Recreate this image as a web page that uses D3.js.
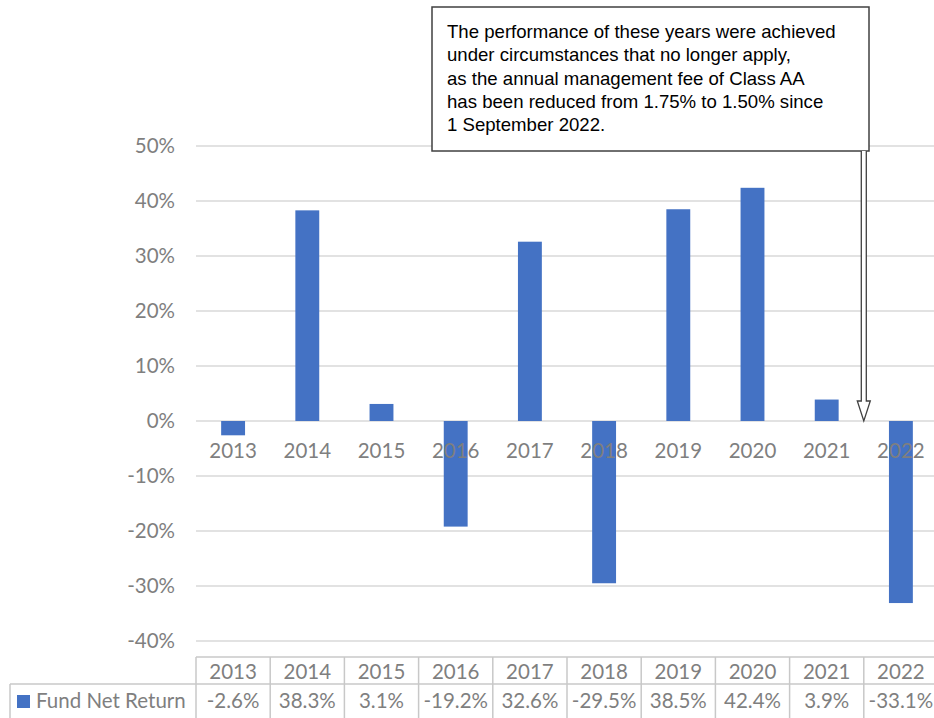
<!DOCTYPE html>
<html><head><meta charset="utf-8">
<script src="https://cdn.jsdelivr.net/npm/d3@7"></script>
<style>html,body{margin:0;padding:0;background:#fff;overflow:hidden}</style>
</head><body>
<script>
const years = ["2013","2014","2015","2016","2017","2018","2019","2020","2021","2022"];
const returns = [-2.6, 38.3, 3.1, -19.2, 32.6, -29.5, 38.5, 42.4, 3.9, -33.1];
const yTicks = [-40, -30, -20, -10, 0, 10, 20, 30, 40, 50];
const seriesName = "Fund Net Return";
const noteLines = [
  "The performance of these years were achieved",
  "under circumstances that no longer apply,",
  "as the annual management fee of Class AA",
  "has been reduced from 1.75% to 1.50% since",
  "1 September 2022."
];

const W = 934, H = 718;
const plotL = 196, plotR = 938, plotT = 146, plotB = 641;
const barColor = "#4472C4", gridColor = "#d9d9d9", txtColor = "#7f7f7f";
const font = "Lato, 'Open Sans', sans-serif";
const fs = "20.5px";

const svg = d3.select("body").append("svg").attr("width", W).attr("height", H);

const y = d3.scaleLinear().domain([-40, 50]).range([plotB, plotT]);
const x = d3.scaleBand().domain(years).range([plotL, plotR]).paddingInner(0.678).paddingOuter(0.339);
const xc = d3.scaleBand().domain(years).range([plotL, plotR]).padding(0);

// gridlines
svg.append("g").selectAll("line").data(yTicks).join("line")
  .attr("x1", plotL).attr("x2", plotR)
  .attr("y1", d => y(d)).attr("y2", d => y(d))
  .attr("stroke", gridColor).attr("stroke-width", 1.5);

// y axis labels
svg.append("g").selectAll("text").data(yTicks).join("text")
  .attr("x", 175).attr("y", d => y(d)).attr("dy", "0.35em")
  .attr("text-anchor", "end").attr("fill", txtColor)
  .style("font-family", font).style("font-size", "20.5px")
  .text(d => d + "%");

// bars
svg.append("g").selectAll("rect").data(years.map((yr,i)=>({yr, v: returns[i]}))).join("rect")
  .attr("x", d => x(d.yr)).attr("width", x.bandwidth())
  .attr("y", d => y(Math.max(0, d.v))).attr("height", d => Math.abs(y(d.v) - y(0)))
  .attr("fill", barColor);

// category labels near zero line (drawn over bars)
svg.append("g").selectAll("text").data(years).join("text")
  .attr("x", d => xc(d) + xc.bandwidth()/2).attr("y", y(0) + 30).attr("dy", "0.35em")
  .attr("text-anchor", "middle").attr("fill", txtColor)
  .style("font-family", font).style("font-size", fs)
  .text(d => d);

// data table
const tTop = 657, tMid = 684, tBot = 722;
const tg = svg.append("g");
const tl = (x1,y1,x2,y2) => tg.append("line").attr("x1",x1).attr("y1",y1).attr("x2",x2).attr("y2",y2)
  .attr("stroke", "#c8c8c8").attr("stroke-width", 1.5);
tl(plotL, tTop, plotR, tTop);
tl(10, tMid, plotR, tMid);
tl(10, tMid, 10, tBot);
years.forEach(d => tl(xc(d), tTop, xc(d), tBot));
tl(plotR, tTop, plotR, tBot);
tg.selectAll("text.yr").data(years).join("text").attr("class","yr")
  .attr("x", d => xc(d) + xc.bandwidth()/2).attr("y", (tTop+tMid)/2 + 1).attr("dy","0.35em")
  .attr("text-anchor","middle").attr("fill", txtColor)
  .style("font-family", font).style("font-size",fs).text(d => d);
tg.selectAll("text.val").data(years).join("text").attr("class","val")
  .attr("x", d => xc(d) + xc.bandwidth()/2).attr("y", 701).attr("dy","0.35em")
  .attr("text-anchor","middle").attr("fill", txtColor)
  .style("font-family", font).style("font-size",fs)
  .text((d,i) => returns[i].toFixed(1) + "%");
tg.append("rect").attr("x",17).attr("y",695).attr("width",13).attr("height",13).attr("fill",barColor);
tg.append("text").attr("x",36).attr("y",701).attr("dy","0.35em").attr("fill",txtColor)
  .style("font-family", font).style("font-size",fs).text(seriesName);

// annotation box
const bx = 432, by = 7, bw = 437, bh = 144;
svg.append("rect").attr("x",bx).attr("y",by).attr("width",bw).attr("height",bh)
  .attr("fill","#fff").attr("stroke","#404040").attr("stroke-width",1.5);
svg.append("g").selectAll("text").data(noteLines).join("text")
  .attr("x", 447).attr("y", (d,i) => 38 + i*23.3)
  .attr("fill","#000").style("font-family","'Liberation Sans', Arial, sans-serif").style("font-size","18.6px")
  .text(d => d);

// hollow arrow
const ax = xc("2021") + xc.bandwidth();
const sh = 2.5, hw = 6.5, headTop = 401, tip = y(0);
const arrowPath = `M${ax-sh},${by+bh} L${ax-sh},${headTop} L${ax-hw},${headTop} L${ax},${tip} L${ax+hw},${headTop} L${ax+sh},${headTop} L${ax+sh},${by+bh}`;
svg.append("path").attr("d", arrowPath).attr("fill","#fff").attr("stroke","#404040").attr("stroke-width",1.3);
</script>
</body></html>
